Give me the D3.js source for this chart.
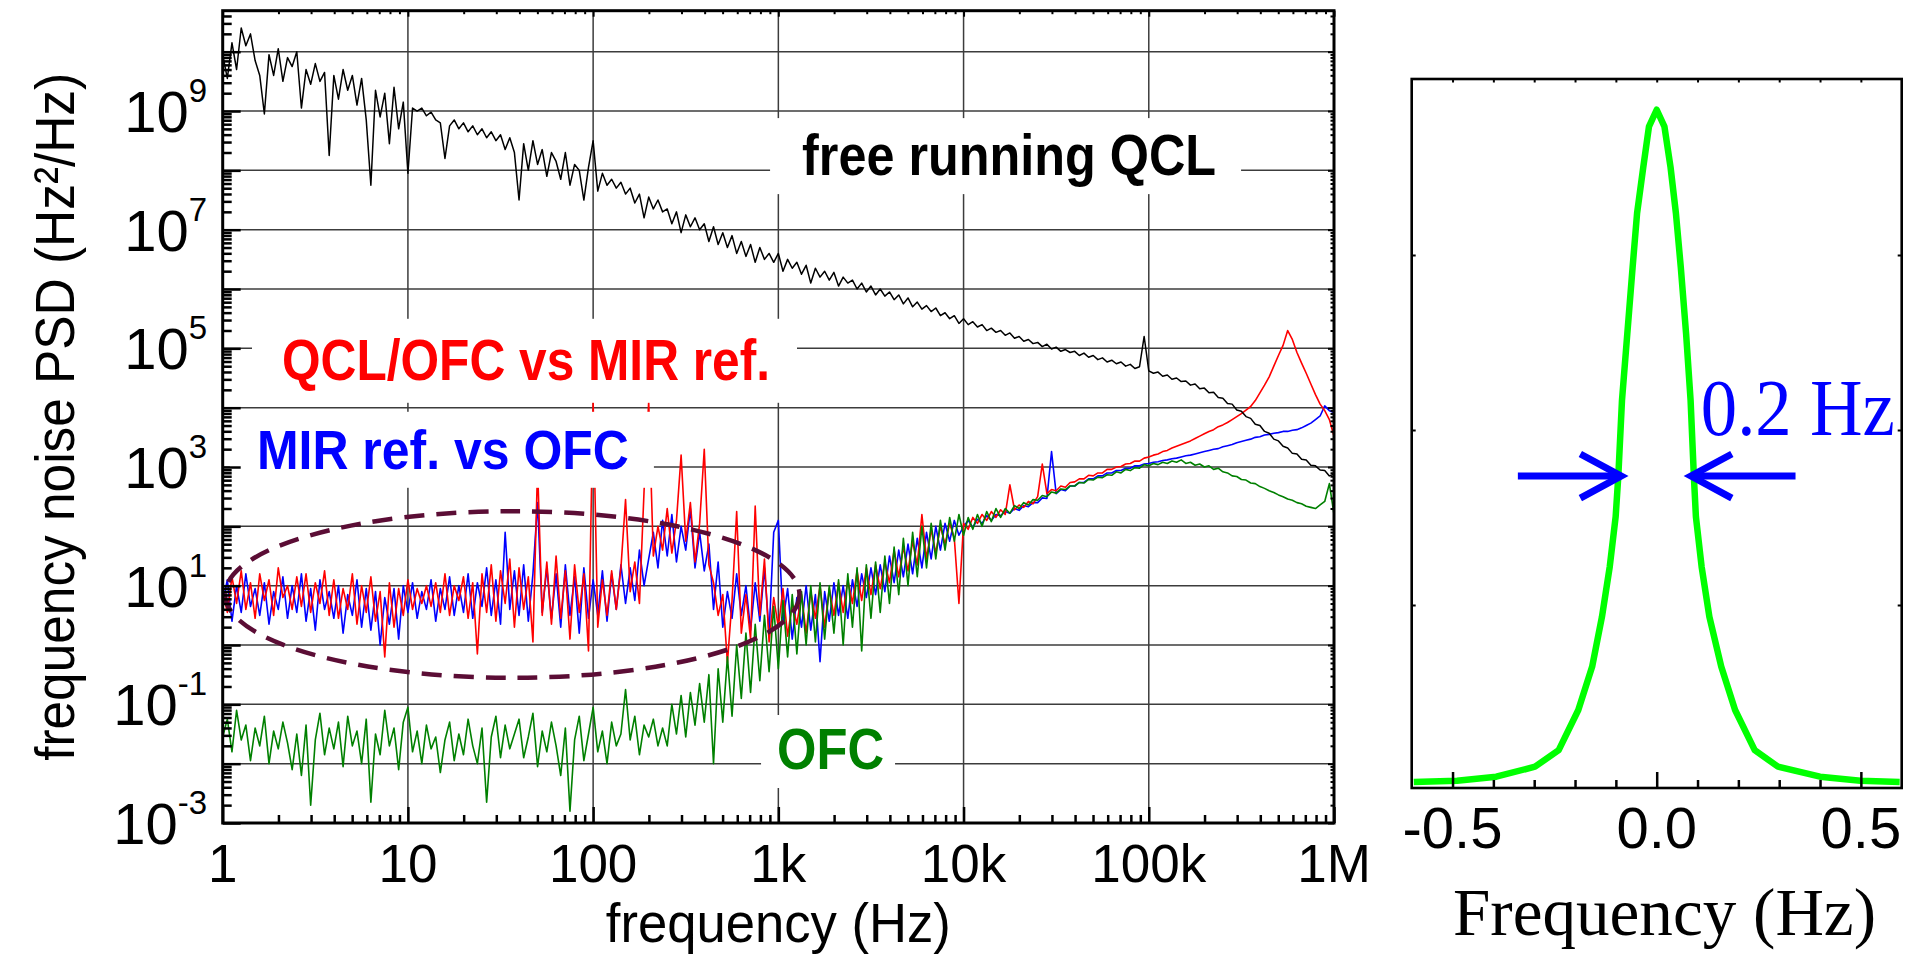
<!DOCTYPE html>
<html><head><meta charset="utf-8">
<script src="https://cdn.jsdelivr.net/npm/d3@7"></script>
<style>body{margin:0;background:#fff}svg{display:block}</style>
</head><body><svg id="chart" width="1915" height="960"></svg>
<script>
// ---------------- DATA ----------------
// log10 of frequency (Hz), shared grid for the four PSD traces
const freqExp = [
0,0.025,0.05,0.075,0.1,0.125,0.15,0.175,
0.2,0.225,0.25,0.275,0.3,0.325,0.35,0.375,
0.4,0.425,0.45,0.475,0.5,0.525,0.55,0.575,
0.6,0.625,0.65,0.675,0.7,0.725,0.75,0.775,
0.8,0.825,0.85,0.875,0.9,0.925,0.95,0.975,
1.0,1.025,1.05,1.075,1.1,1.125,1.15,1.175,
1.2,1.225,1.25,1.275,1.3,1.325,1.35,1.375,
1.4,1.425,1.45,1.475,1.5,1.525,1.55,1.575,
1.6,1.625,1.65,1.675,1.7,1.725,1.75,1.775,
1.8,1.825,1.85,1.875,1.9,1.925,1.95,1.975,
2.0,2.025,2.05,2.075,2.1,2.125,2.15,2.175,
2.2,2.225,2.25,2.275,2.3,2.325,2.35,2.375,
2.4,2.425,2.45,2.475,2.5,2.525,2.55,2.575,
2.6,2.625,2.65,2.675,2.7,2.725,2.75,2.775,
2.8,2.825,2.85,2.875,2.9,2.925,2.95,2.975,
3.0,3.025,3.05,3.075,3.1,3.125,3.15,3.175,
3.2,3.225,3.25,3.275,3.3,3.325,3.35,3.375,
3.4,3.425,3.45,3.475,3.5,3.525,3.55,3.575,
3.6,3.625,3.65,3.675,3.7,3.725,3.75,3.775,
3.8,3.825,3.85,3.875,3.9,3.925,3.95,3.975,
4.0,4.025,4.05,4.075,4.1,4.125,4.15,4.175,
4.2,4.225,4.25,4.275,4.3,4.325,4.35,4.375,
4.4,4.425,4.45,4.475,4.5,4.525,4.55,4.575,
4.6,4.625,4.65,4.675,4.7,4.725,4.75,4.775,
4.8,4.825,4.85,4.875,4.9,4.925,4.95,4.975,
5.0,5.025,5.05,5.075,5.1,5.125,5.15,5.175,
5.2,5.225,5.25,5.275,5.3,5.325,5.35,5.375,
5.4,5.425,5.45,5.475,5.5,5.525,5.55,5.575,
5.6,5.625,5.65,5.675,5.7,5.725,5.75,5.775,
5.8,5.825,5.85,5.875,5.9,5.925,5.95,5.975,
6.0];

// log10 of frequency noise PSD (Hz^2/Hz)
const freeRunningQCL = [
9.95,9.55,10.15,9.7,10.4,10.1,10.3,9.85,
9.6,8.95,9.95,9.6,10.05,9.5,9.9,9.75,
10.0,9.05,9.7,9.45,9.8,9.5,9.65,8.25,
9.6,9.2,9.7,9.35,9.6,9.1,9.55,8.85,
7.75,9.35,8.9,9.3,8.45,9.4,8.7,9.15,
7.95,9.05,9.0,9.05,8.92,8.98,8.85,8.8,
8.2,8.75,8.85,8.7,8.8,8.65,8.75,8.6,
8.7,8.55,8.65,8.5,8.6,8.35,8.55,8.3,
7.5,8.45,8.0,8.5,8.1,8.35,7.9,8.3,
8.15,7.85,8.3,7.75,8.1,8.0,7.5,8.05,
8.5,7.65,7.95,7.75,7.85,7.7,7.8,7.6,
7.7,7.45,7.6,7.2,7.55,7.35,7.5,7.3,
7.35,7.1,7.3,6.95,7.25,7.05,7.2,7.0,
7.1,6.8,7.05,6.75,6.95,6.7,6.9,6.6,
6.8,6.55,6.75,6.45,6.7,6.5,6.6,6.45,
6.6,6.3,6.5,6.35,6.45,6.25,6.4,6.1,
6.35,6.2,6.3,6.15,6.28,6.05,6.2,6.1,
6.15,6.0,6.1,5.95,6.05,5.9,6.0,5.88,
5.95,5.82,5.9,5.75,5.85,5.7,5.78,5.66,
5.72,5.62,5.68,5.55,5.6,5.5,5.55,5.42,
5.5,5.4,5.45,5.36,5.4,5.3,5.34,5.27,
5.3,5.22,5.26,5.17,5.2,5.12,5.15,5.08,
5.1,5.03,5.07,4.99,5.02,4.95,4.98,4.93,
4.95,4.88,4.92,4.85,4.88,4.81,4.84,4.77,
4.8,4.74,4.77,4.7,4.73,4.66,4.69,5.2,
4.62,4.58,4.6,4.53,4.55,4.48,4.5,4.44,
4.45,4.38,4.4,4.32,4.33,4.25,4.26,4.17,
4.16,4.07,4.06,3.96,3.94,3.85,3.82,3.72,
3.7,3.6,3.57,3.47,3.44,3.35,3.32,3.23,
3.22,3.13,3.12,3.03,3.02,2.95,2.94,2.85,
2.88];

const qclOfcVsMir = [
0.9,0.55,1.15,0.7,1.25,0.6,1.05,0.45,
1.2,0.75,1.1,0.5,1.3,0.8,1.0,0.6,
1.15,0.65,1.2,0.55,1.05,0.7,1.25,0.5,
1.1,0.45,0.95,0.6,1.2,0.35,1.0,0.55,
1.15,0.4,0.9,-0.2,1.05,0.3,0.95,0.5,
1.1,0.6,0.95,0.7,1.0,0.65,1.05,0.55,
1.2,0.5,1.0,0.75,1.15,0.45,1.05,-0.15,
1.2,0.55,1.35,0.4,1.25,0.7,1.45,0.3,
1.3,0.6,1.15,0.05,3.0,0.5,1.4,0.35,
1.5,0.45,1.25,0.1,1.35,0.55,1.2,-0.1,
4.1,0.3,1.1,0.5,1.25,0.6,1.3,2.45,
0.9,1.4,0.7,2.6,4.1,1.5,2.0,1.6,
2.3,1.55,2.1,3.2,1.75,2.4,1.4,2.05,
3.3,1.35,1.05,0.5,0.85,-0.3,0.75,2.25,
0.2,0.85,0.1,2.34,0.5,1.45,0.05,0.8,
0.3,0.95,0.15,0.7,0.35,0.85,0.2,0.9,
0.45,1.0,0.3,0.95,0.5,1.05,0.55,1.1,
0.7,1.25,0.75,1.3,0.85,1.35,0.95,1.4,
1.05,1.6,1.15,1.65,1.25,1.75,1.35,2.2,
1.45,1.95,1.55,2.0,1.7,2.05,1.8,0.7,
2.05,1.95,2.15,2.05,2.2,2.1,2.25,2.15,
2.28,2.2,2.7,2.28,2.36,2.32,2.42,2.38,
2.5,3.05,2.55,2.62,2.6,2.68,2.66,2.74,
2.75,2.8,2.8,2.86,2.85,2.9,2.9,2.96,
2.96,3.0,3.01,3.05,3.06,3.1,3.1,3.15,
3.17,3.2,3.22,3.26,3.28,3.32,3.35,3.38,
3.41,3.44,3.48,3.52,3.56,3.6,3.63,3.68,
3.71,3.75,3.8,3.85,3.9,3.96,4.02,4.12,
4.25,4.38,4.52,4.7,4.88,5.05,5.3,5.15,
4.93,4.75,4.58,4.4,4.22,4.06,3.95,3.8,
3.52];

const mirVsOfc = [
0.7,1.1,0.4,1.0,0.55,1.2,0.65,0.95,
0.5,1.05,0.35,0.9,0.6,1.15,0.45,1.0,
0.55,1.2,0.4,0.95,0.25,1.1,0.6,0.9,
0.45,1.0,0.2,0.85,0.5,1.1,0.3,0.95,
0.25,0.9,0.0,0.8,0.35,0.95,0.1,1.0,
0.55,1.05,0.45,0.9,0.6,1.1,0.4,0.95,
0.6,1.15,0.5,1.0,0.55,1.2,0.45,1.05,
0.65,1.3,0.5,1.1,0.35,1.9,0.6,1.25,
0.5,1.35,0.4,1.2,2.4,0.55,1.3,0.45,
1.2,0.3,1.35,0.5,1.15,0.2,1.3,0.45,
1.1,0.5,1.25,0.4,1.2,0.6,1.35,0.7,
1.3,0.75,1.6,1.0,1.45,1.9,1.3,2.1,
1.5,2.2,1.4,2.0,1.6,2.3,1.3,1.9,
1.25,1.7,0.6,1.4,0.3,0.9,0.45,1.2,
0.5,1.0,0.25,1.05,0.4,1.3,0.2,1.9,
2.1,0.4,0.95,0.1,0.8,0.3,1.0,0.25,
0.85,-0.28,0.9,0.4,1.05,0.5,1.0,0.45,
1.1,0.65,1.2,0.8,1.3,0.85,1.35,0.9,
1.5,1.05,1.6,1.15,1.7,1.2,1.8,1.3,
1.9,1.45,2.0,1.6,2.05,1.75,2.1,1.85,
2.0,2.1,1.98,2.12,2.05,2.18,2.1,2.2,
2.18,2.25,2.22,2.3,2.27,2.35,2.33,2.4,
2.4,2.48,2.47,3.26,2.55,2.62,2.6,2.68,
2.68,2.74,2.74,2.8,2.8,2.85,2.85,2.9,
2.9,2.94,2.94,2.98,2.98,3.02,3.02,3.05,
3.06,3.08,3.09,3.11,3.12,3.14,3.15,3.17,
3.19,3.2,3.22,3.24,3.26,3.28,3.3,3.31,
3.34,3.36,3.38,3.41,3.43,3.45,3.47,3.5,
3.51,3.54,3.55,3.57,3.58,3.6,3.6,3.62,
3.63,3.66,3.7,3.74,3.8,3.86,4.03,3.95,
3.92];

const ofcNoise = [
-1.55,-1.25,-1.8,-1.1,-1.6,-1.35,-1.95,-1.4,
-1.7,-1.2,-2.0,-1.45,-1.75,-1.3,-1.65,-2.1,
-1.5,-2.2,-1.35,-2.7,-1.6,-1.15,-1.85,-1.4,
-1.75,-1.3,-2.05,-1.2,-1.7,-1.45,-2.0,-1.25,
-2.65,-1.5,-1.85,-1.1,-1.7,-1.4,-2.1,-1.3,
-1.05,-1.8,-1.45,-2.0,-1.35,-1.75,-1.55,-2.15,
-1.6,-1.3,-1.95,-1.5,-1.85,-1.25,-1.7,-2.0,
-1.4,-2.65,-1.55,-1.2,-1.9,-1.35,-1.75,-1.5,
-1.25,-1.9,-1.55,-1.15,-2.05,-1.45,-1.8,-1.3,
-1.7,-2.2,-1.4,-2.8,-1.6,-1.2,-1.95,-1.5,
-1.05,-1.8,-1.45,-2.0,-1.3,-1.7,-1.5,-0.75,
-1.6,-1.2,-1.85,-1.35,-1.55,-1.25,-1.7,-1.4,
-1.7,-1.0,-1.5,-0.85,-1.55,-0.8,-1.35,-0.65,
-1.3,-0.5,-2.0,-0.4,-1.3,-0.2,-1.2,0.0,
-0.9,0.2,-0.8,0.35,-0.6,0.5,-0.45,0.65,
-0.4,0.75,-0.2,0.85,-0.15,0.9,0.0,1.0,
0.05,1.05,0.1,1.0,0.2,1.1,0.0,1.2,
0.3,1.3,-0.1,1.35,0.45,1.4,0.55,1.5,
0.7,1.65,0.85,1.8,1.0,1.9,1.15,2.0,
1.3,2.05,1.45,2.1,1.6,2.15,1.75,2.2,
1.85,2.15,1.95,2.2,2.0,2.25,2.08,2.3,
2.15,2.3,2.22,2.35,2.3,2.4,2.36,2.45,
2.44,2.52,2.5,2.58,2.56,2.63,2.62,2.68,
2.68,2.74,2.73,2.79,2.78,2.83,2.82,2.87,
2.86,2.92,2.9,2.96,2.94,2.99,2.98,3.04,
3.02,3.06,3.04,3.08,3.06,3.1,3.08,3.12,
3.06,3.08,3.03,3.05,3.0,3.02,2.96,2.98,
2.92,2.9,2.85,2.84,2.79,2.78,2.73,2.72,
2.67,2.64,2.6,2.57,2.53,2.5,2.46,2.44,
2.4,2.38,2.34,2.32,2.3,2.36,2.42,2.72,
2.2];

// Beat-note line shape (right panel): frequency offset (Hz) and amplitude (arb.)
const lineFreq = [-0.595,-0.489,-0.393,-0.298,-0.24,-0.192,-0.158,-0.134,-0.115,-0.1005,-0.094,-0.085,-0.072,-0.059,-0.048,-0.033,-0.019,
  0,0.019,0.034,0.047,0.059,0.072,0.083,0.091,0.096,0.11,0.129,0.158,0.192,0.24,0.297,0.4,0.499,0.595];
const lineAmp = [-0.011,-0.004,0.019,0.076,0.171,0.40,0.648,0.933,1.219,1.505,1.737,2.17,2.55,2.93,3.24,3.50,3.733,
  3.83,3.733,3.50,3.24,2.93,2.55,2.17,1.737,1.505,1.219,0.933,0.648,0.40,0.171,0.076,0.019,-0.004,-0.011];

const xTickValues = [1,10,100,1e3,1e4,1e5,1e6];
const xTickLabels = ["1","10","100","1k","10k","100k","1M"];
const yTickExps = [-3,-1,1,3,5,7,9];
const rTickValues = [-0.5,0,0.5];
const rTickLabels = ["-0.5","0.0","0.5"];
const ellipseBounds = {fLow:1.03, fHigh:1300, psdLow:0.28, psdHigh:180};
const fwhmMarks = {y:1.737, leftTail:-0.34, leftTip:-0.087, rightTip:0.084, rightTail:0.34, headDx:0.1, headDy:0.126};

// ---------------- DRAW ----------------
const SANS = "Liberation Sans, Arial, Helvetica, sans-serif";
const SERIF = "Liberation Serif, Times New Roman, serif";
const svg = d3.select("#chart");

const P = {l:222.7, r:1334, t:10.7, b:823};
const x = d3.scaleLog().domain([1,1e6]).range([P.l,P.r]);
const y = d3.scaleLog().domain([1e-3, Math.pow(10,10.691)]).range([P.b,P.t]);

// grid
const grid = svg.append("g").attr("stroke","#3c3c3c").attr("stroke-width",1.5);
grid.selectAll("line.h").data(d3.range(-2,11)).join("line")
  .attr("x1",P.l).attr("x2",P.r).attr("y1",e=>y(Math.pow(10,e))).attr("y2",e=>y(Math.pow(10,e)));
grid.selectAll("line.v").data([10,100,1e3,1e4,1e5]).join("line")
  .attr("y1",P.t).attr("y2",P.b).attr("x1",d=>x(d)).attr("x2",d=>x(d));

// traces
svg.append("clipPath").attr("id","cl").append("rect")
  .attr("x",P.l).attr("y",P.t).attr("width",P.r-P.l).attr("height",P.b-P.t);
const line = d3.line().x((d,i)=>x(Math.pow(10,freqExp[i]))).y(d=>y(Math.pow(10,d)));
const traces = svg.append("g").attr("clip-path","url(#cl)").attr("fill","none").attr("stroke-linejoin","round");
[[mirVsOfc,"#0000ff",1.6],[qclOfcVsMir,"#ff0000",1.6],[ofcNoise,"#008000",1.6],[freeRunningQCL,"#000000",1.5]].forEach(([s,c,w])=>{
  traces.append("path").attr("d",line(s)).attr("stroke",c).attr("stroke-width",w);
});

// dashed ellipse
const ecx = (x(ellipseBounds.fLow)+x(ellipseBounds.fHigh))/2, erx = (x(ellipseBounds.fHigh)-x(ellipseBounds.fLow))/2;
const ecy = (y(ellipseBounds.psdLow)+y(ellipseBounds.psdHigh))/2, ery = (y(ellipseBounds.psdLow)-y(ellipseBounds.psdHigh))/2;
svg.append("ellipse").attr("cx",ecx).attr("cy",ecy).attr("rx",erx).attr("ry",ery)
  .attr("fill","none").attr("stroke","#5b0d35").attr("stroke-width",4.5).attr("stroke-dasharray","20,12");

// annotations with white boxes
const annLeft = [
 {text:"free running QCL", f:1343, v:Math.pow(10,7.92), color:"#000000", size:58, len:414, pad:[32,25,4,7]},
 {text:"QCL/OFC vs MIR ref.", f:2.09, v:Math.pow(10,4.47), color:"#ff0000", size:58, len:488, pad:[30,27,8,11]},
 {text:"MIR ref. vs OFC", f:1.53, v:Math.pow(10,2.97), color:"#0000ff", size:55, len:372, pad:[27,25,7,7]},
 {text:"OFC", f:984, v:Math.pow(10,-2.09), color:"#008000", size:58, len:107, pad:[16,11,1,7]}
];
annLeft.forEach(a=>{
  const g = svg.append("g");
  const r = g.append("rect").attr("fill","#fff");
  const t = g.append("text").attr("x",x(a.f)).attr("y",y(a.v)).attr("font-family",SANS).attr("font-weight","bold")
    .attr("font-size",a.size).attr("fill",a.color).attr("textLength",a.len).attr("lengthAdjust","spacingAndGlyphs").text(a.text);
  const bb = t.node().getBBox();
  r.attr("x",bb.x-a.pad[0]).attr("y",bb.y-a.pad[2]).attr("width",bb.width+a.pad[0]+a.pad[1]).attr("height",bb.height+a.pad[2]+a.pad[3]);
});

// ticks (inward) via d3 axes
function styleAxis(g,w){ g.select(".domain").remove(); g.selectAll(".tick line").attr("stroke","#000").attr("stroke-width",w); g.selectAll(".tick text").remove(); }
const minorX = []; for(let e=0;e<6;e++) for(let k=2;k<10;k++) minorX.push(k*Math.pow(10,e));
const minorY = []; for(let e=-3;e<=10;e++) for(let k=2;k<10;k++){ const v=k*Math.pow(10,e); if(v<y.domain()[1]) minorY.push(v); }
const majorY = d3.range(-3,11).map(e=>Math.pow(10,e));
svg.append("g").attr("transform",`translate(0,${P.b})`).call(d3.axisBottom(x).tickValues(xTickValues).tickSize(-16).tickFormat("")).call(g=>styleAxis(g,2.5));
svg.append("g").attr("transform",`translate(0,${P.b})`).call(d3.axisBottom(x).tickValues(minorX).tickSize(-8).tickFormat("")).call(g=>styleAxis(g,2.5));
svg.append("g").attr("transform",`translate(0,${P.t})`).call(d3.axisTop(x).tickValues(xTickValues).tickSize(-6).tickFormat("")).call(g=>styleAxis(g,2));
svg.append("g").attr("transform",`translate(0,${P.t})`).call(d3.axisTop(x).tickValues(minorX).tickSize(-3.5).tickFormat("")).call(g=>styleAxis(g,2));
svg.append("g").attr("transform",`translate(${P.l},0)`).call(d3.axisLeft(y).tickValues(majorY).tickSize(-18).tickFormat("")).call(g=>styleAxis(g,2.5));
svg.append("g").attr("transform",`translate(${P.l},0)`).call(d3.axisLeft(y).tickValues(minorY).tickSize(-9).tickFormat("")).call(g=>styleAxis(g,2.5));
svg.append("g").attr("transform",`translate(${P.r},0)`).call(d3.axisRight(y).tickValues(majorY).tickSize(-6).tickFormat("")).call(g=>styleAxis(g,2));
svg.append("g").attr("transform",`translate(${P.r},0)`).call(d3.axisRight(y).tickValues(minorY).tickSize(-3.5).tickFormat("")).call(g=>styleAxis(g,2));
svg.append("rect").attr("x",P.l).attr("y",P.t).attr("width",P.r-P.l).attr("height",P.b-P.t)
  .attr("fill","none").attr("stroke","#000").attr("stroke-width",3);

// tick labels
svg.append("g").selectAll("text").data(xTickValues).join("text")
  .attr("x",d=>x(d)).attr("y",882).attr("text-anchor","middle").attr("font-family",SANS).attr("font-size",53)
  .text((d,i)=>xTickLabels[i]);
yTickExps.forEach(e=>{
  const t = svg.append("text").attr("x",207).attr("y",y(Math.pow(10,e))+21).attr("text-anchor","end").attr("font-family",SANS);
  t.append("tspan").attr("font-size",58).text("10");
  t.append("tspan").attr("font-size",33).attr("dy",-30).text(String(e));
});
// axis titles
svg.append("text").attr("x",(P.l+P.r)/2).attr("y",942).attr("text-anchor","middle").attr("font-family",SANS)
  .attr("font-size",55).attr("textLength",345).attr("lengthAdjust","spacingAndGlyphs").text("frequency (Hz)");
svg.append("text").attr("transform",`translate(74,${(P.t+P.b)/2}) rotate(-90)`).attr("text-anchor","middle").attr("font-family",SANS)
  .attr("font-size",56).attr("textLength",688).attr("lengthAdjust","spacingAndGlyphs").text("frequency noise PSD (Hz²/Hz)");

// ---------------- RIGHT PANEL ----------------
const R = {l:1411.7, r:1901.7, t:79, b:788};
const xr = d3.scaleLinear().domain([-0.6,0.6]).range([R.l,R.r]);
const yr = d3.scaleLinear().domain([0,4]).range([780,80]);

svg.append("path").attr("d", d3.line().x((d,i)=>xr(lineFreq[i])).y(d=>yr(d))(lineAmp))
  .attr("fill","none").attr("stroke","#00ff00").attr("stroke-width",6.5).attr("stroke-linejoin","round");

const rMinor = [-0.4,-0.3,-0.2,-0.1,0.1,0.2,0.3,0.4];
const rAll = [-0.5,-0.4,-0.3,-0.2,-0.1,0,0.1,0.2,0.3,0.4,0.5];
svg.append("g").attr("transform",`translate(0,${R.b})`).call(d3.axisBottom(xr).tickValues(rTickValues).tickSize(-16).tickFormat("")).call(g=>styleAxis(g,2.5));
svg.append("g").attr("transform",`translate(0,${R.b})`).call(d3.axisBottom(xr).tickValues(rMinor).tickSize(-8).tickFormat("")).call(g=>styleAxis(g,2.5));
svg.append("g").attr("transform",`translate(0,${R.t})`).call(d3.axisTop(xr).tickValues(rAll).tickSize(-3.5).tickFormat("")).call(g=>styleAxis(g,2));
svg.append("g").attr("transform",`translate(${R.l},0)`).call(d3.axisLeft(yr).tickValues([1,2,3]).tickSize(-4).tickFormat("")).call(g=>styleAxis(g,2));
svg.append("g").attr("transform",`translate(${R.r},0)`).call(d3.axisRight(yr).tickValues([1,2,3]).tickSize(-4).tickFormat("")).call(g=>styleAxis(g,2));
svg.append("rect").attr("x",R.l).attr("y",R.t).attr("width",R.r-R.l).attr("height",R.b-R.t)
  .attr("fill","none").attr("stroke","#000").attr("stroke-width",2.6);

svg.append("g").selectAll("text").data(rTickValues).join("text")
  .attr("x",d=>xr(d)).attr("y",848).attr("text-anchor","middle").attr("font-family",SANS).attr("font-size",58)
  .text((d,i)=>rTickLabels[i]);
svg.append("text").attr("x",1664.5).attr("y",935).attr("text-anchor","middle").attr("font-family",SERIF)
  .attr("font-size",68).attr("textLength",423).attr("lengthAdjust","spacingAndGlyphs").text("Frequency (Hz)");

// FWHM arrows
const m = fwhmMarks;
const arrows = svg.append("g").attr("fill","none").attr("stroke","#0000ff").attr("stroke-width",7).attr("stroke-linejoin","miter");
arrows.append("line").attr("x1",xr(m.leftTail)).attr("x2",xr(m.leftTip)).attr("y1",yr(m.y)).attr("y2",yr(m.y));
arrows.append("polyline").attr("points",[[xr(m.leftTip-m.headDx),yr(m.y+m.headDy)],[xr(m.leftTip),yr(m.y)],[xr(m.leftTip-m.headDx),yr(m.y-m.headDy)]].map(p=>p.join(",")).join(" "));
arrows.append("line").attr("x1",xr(m.rightTail)).attr("x2",xr(m.rightTip)).attr("y1",yr(m.y)).attr("y2",yr(m.y));
arrows.append("polyline").attr("points",[[xr(m.rightTip+m.headDx),yr(m.y+m.headDy)],[xr(m.rightTip),yr(m.y)],[xr(m.rightTip+m.headDx),yr(m.y-m.headDy)]].map(p=>p.join(",")).join(" "));
svg.append("text").attr("x",xr(0.108)).attr("y",yr(1.971)).attr("font-family",SERIF).attr("font-size",80)
  .attr("fill","#0000ff").attr("textLength",194).attr("lengthAdjust","spacingAndGlyphs").text("0.2 Hz");
</script></body></html>
